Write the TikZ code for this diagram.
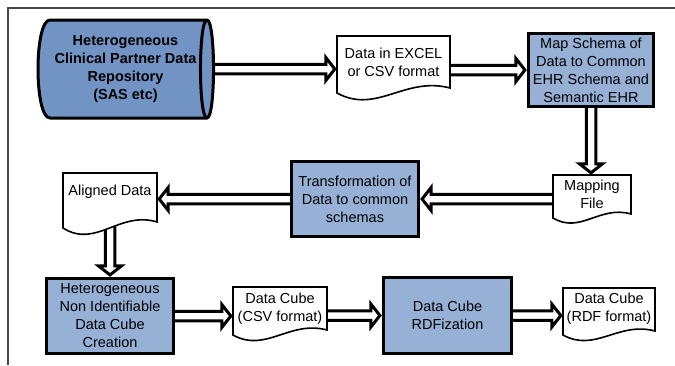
\documentclass[tikz,border=0pt]{standalone}
\usepackage{fontspec}
\setmainfont{Liberation Sans}
\usetikzlibrary{calc}
\definecolor{cylblue}{RGB}{114,148,196}
\definecolor{boxblue}{RGB}{150,177,213}
\definecolor{framegray}{RGB}{70,70,70}
\pgfdeclarelayer{bg}
\pgfsetlayers{bg,main}
\newcommand\docoutline[5]{%
  \pgfmathsetmacro\dcw{#3-#1}%
  \pgfmathsetmacro\dch{#4-#2}%
  \pgfmathsetmacro\dcxa{#1+0.35*\dcw}%
  \pgfmathsetmacro\dcxb{#1+0.6*\dcw}%
  \pgfmathsetmacro\dcya{#4+0.38*\dch}%
  \pgfmathsetmacro\dcyb{#5-0.21*\dch}%
  \draw[docline] (#3,#5) -- (#3,#2) -- (#1,#2) -- (#1,#4) .. controls (\dcxa,\dcya) and (\dcxb,\dcyb) .. (#3,#5) -- cycle;}
\begin{document}
\begin{tikzpicture}[x=1pt,y=-1pt,
  txt/.style={font=\fontsize{14.5}{18}\selectfont, align=center, inner sep=0pt},
  procbox/.style={txt, draw=black, line width=3.2pt, fill=boxblue},
  docline/.style={draw=black, line width=1.6pt, fill=white, line join=miter},
  blockarrow/.style={draw=black, fill=white, line width=3pt, line join=miter,
    to path={let \p1=(\tikztostart), \p2=(\tikztotarget),
      \n1={veclen(\x2-\x1,\y2-\y1)},
      \n2={(\x2-\x1)/\n1}, \n3={(\y2-\y1)/\n1} in
      ({\x1-4.75*\n3*1pt},{\y1+4.75*\n2*1pt})
      -- ({\x2-11*\n2*1pt-4.75*\n3*1pt},{\y2-11*\n3*1pt+4.75*\n2*1pt})
      -- ({\x2-11*\n2*1pt-11.5*\n3*1pt},{\y2-11*\n3*1pt+11.5*\n2*1pt})
      -- ({\x2-2*\n2*1pt},{\y2-2*\n3*1pt})
      -- ({\x2-11*\n2*1pt+11.5*\n3*1pt},{\y2-11*\n3*1pt-11.5*\n2*1pt})
      -- ({\x2-11*\n2*1pt+4.75*\n3*1pt},{\y2-11*\n3*1pt-4.75*\n2*1pt})
      -- ({\x1+4.75*\n3*1pt},{\y1-4.75*\n2*1pt})}}]
\useasboundingbox (0,0) rectangle (675,365);
\draw[framegray, line width=1.3pt] (8,365) -- (8,8) -- (675,8);
% cylinder
\fill[cylblue] (50,20) -- (207,20) .. controls (215.7,20) and (215.7,118) .. (207,118) -- (50,118) .. controls (34,118) and (34,20) .. (50,20) -- cycle;
\draw[line width=3pt, line join=round] (50,20) -- (207,20) .. controls (215.7,20) and (215.7,118) .. (207,118) -- (50,118) .. controls (34,118) and (34,20) .. (50,20) -- cycle;
\draw[line width=3pt] (207,20) .. controls (198.3,20) and (198.3,118) .. (207,118);
\node[txt, font=\fontsize{14.5}{18}\selectfont\bfseries, minimum width=175pt, minimum height=98pt] (repo) at (125.5,69) {Heterogeneous\\Clinical Partner Data\\Repository\\(SAS etc)};
% documents
\docoutline{337}{36}{450}{93}{88}
\node[txt, minimum width=113pt] (doc1) at (393.5,62) {Data in EXCEL\\or CSV format};
\docoutline{553}{175}{631}{218}{214}
\node[txt, minimum width=78pt, minimum height=39pt] (mapfile) at (592,194.5) {Mapping\\File};
\docoutline{63}{173}{157}{228}{222}
\node[txt, minimum width=94pt] (aligned) at (110,192) {Aligned Data};
\docoutline{233}{287}{327}{335}{330}
\node[txt, minimum width=94pt] (csv) at (280,309) {Data Cube\\(CSV format)};
\docoutline{563}{288}{655}{335}{331}
\node[txt, minimum width=92pt] (rdfdoc) at (609,308.5) {Data Cube\\(RDF format)};
% process boxes
\node[procbox, minimum width=125pt, minimum height=73pt] (map) at (591,70) {Map Schema of\\Data to Common\\EHR Schema and\\Semantic EHR};
\node[procbox, minimum width=127pt, minimum height=75pt] (trans) at (355,199) {Transformation of\\Data to common\\schemas};
\node[procbox, minimum width=127pt, minimum height=75pt] (het) at (110,316) {Heterogeneous\\Non Identifiable\\Data Cube\\Creation};
\node[procbox, minimum width=128pt, minimum height=76pt] (rdf) at (447.5,315.5) {Data Cube\\RDFization};
% arrows
\begin{pgfonlayer}{bg}
\draw[blockarrow] (repo.east) to (repo.east -| doc1.west);
\draw[blockarrow] (doc1.east |- map.west) to (map.west);
\draw[blockarrow] (map.south) to (map.south |- mapfile.north);
\draw[blockarrow] (mapfile.west |- trans.east) to (trans.east);
\draw[blockarrow] (trans.west) to (trans.west -| aligned.east);
\draw[blockarrow] (aligned.south) to (aligned.south |- het.north);
\draw[blockarrow] (het.east) to (het.east -| csv.west);
\draw[blockarrow] (csv.east |- rdf.west) to (rdf.west);
\draw[blockarrow] (rdf.east) to (rdf.east -| rdfdoc.west);
\end{pgfonlayer}
\end{tikzpicture}
\end{document}
